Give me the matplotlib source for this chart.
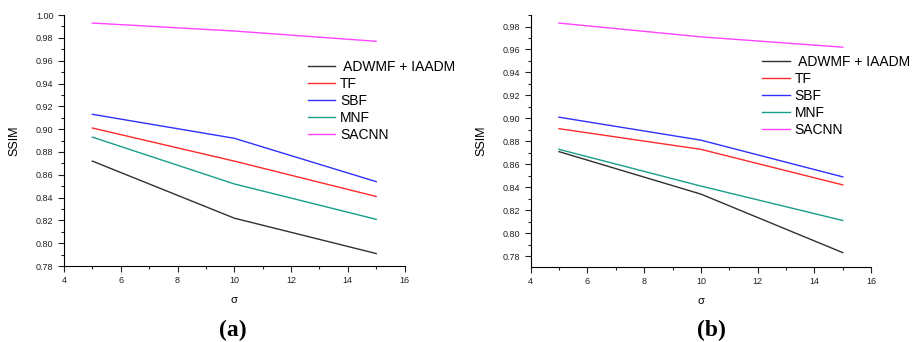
import matplotlib
matplotlib.use("Agg")
import matplotlib.pyplot as plt
from matplotlib.ticker import MultipleLocator, FormatStrFormatter

plt.rcParams['font.family'] = ['Liberation Sans', 'DejaVu Sans']

# sigma values
sigma = [5, 10, 15]
labels = [" ADWMF + IAADM", "TF", "SBF", "MNF", "SACNN"]
colors = ["#303030", "#ff2a2a", "#3030ff", "#1a9e8c", "#ff44ff"]

# panel (a)
a_adwmf = [0.872, 0.822, 0.791]
a_tf = [0.901, 0.872, 0.841]
a_sbf = [0.913, 0.892, 0.854]
a_mnf = [0.893, 0.852, 0.821]
a_sacnn = [0.993, 0.986, 0.977]

# panel (b)
b_adwmf = [0.871, 0.834, 0.783]
b_tf = [0.891, 0.873, 0.842]
b_sbf = [0.901, 0.881, 0.849]
b_mnf = [0.873, 0.841, 0.811]
b_sacnn = [0.983, 0.971, 0.962]

fig = plt.figure(figsize=(9.18, 3.42), dpi=100)

def draw_panel(rect, series, ylim, legend_xy, tag, tag_x):
    ax = fig.add_axes(rect)
    for vals, lab, col in zip(series, labels, colors):
        ax.plot(sigma, vals, color=col, lw=1.0, label=lab)
    ax.set_xlim(4, 16)
    ax.set_ylim(*ylim)
    ax.xaxis.set_major_locator(MultipleLocator(2))
    ax.xaxis.set_minor_locator(MultipleLocator(1))
    ax.yaxis.set_major_locator(MultipleLocator(0.02))
    ax.yaxis.set_minor_locator(MultipleLocator(0.01))
    ax.yaxis.set_major_formatter(FormatStrFormatter('%.2f'))
    ax.spines['top'].set_visible(False)
    ax.spines['right'].set_visible(False)
    ax.tick_params(which='both', direction='out', labelsize=6.5, colors='#222222')
    ax.tick_params(which='major', length=4, width=0.8)
    ax.tick_params(which='minor', length=2.5, width=0.8)
    ax.set_ylabel("SSIM", fontsize=9, labelpad=11)
    ax.set_xlabel("σ", fontsize=8, labelpad=7)
    ax.legend(loc='upper left', bbox_to_anchor=legend_xy, bbox_transform=fig.transFigure,
              frameon=False, fontsize=10, handlelength=2.0, handletextpad=0.35,
              labelspacing=0.22, borderpad=0, borderaxespad=0)
    fig.text(tag_x, 0.035, tag, ha='center', va='center', fontsize=17,
             fontweight='bold', family='Liberation Serif')
    return ax

draw_panel([0.0697, 0.222, 0.371, 0.734],
           [a_adwmf, a_tf, a_sbf, a_mnf, a_sacnn],
           (0.78, 1.00), (0.335, 0.825), "(a)", 0.254)
draw_panel([0.578, 0.220, 0.371, 0.736],
           [b_adwmf, b_tf, b_sbf, b_mnf, b_sacnn],
           (0.7707, 0.990), (0.830, 0.84), "(b)", 0.775)

fig.savefig("out.png", dpi=100)
